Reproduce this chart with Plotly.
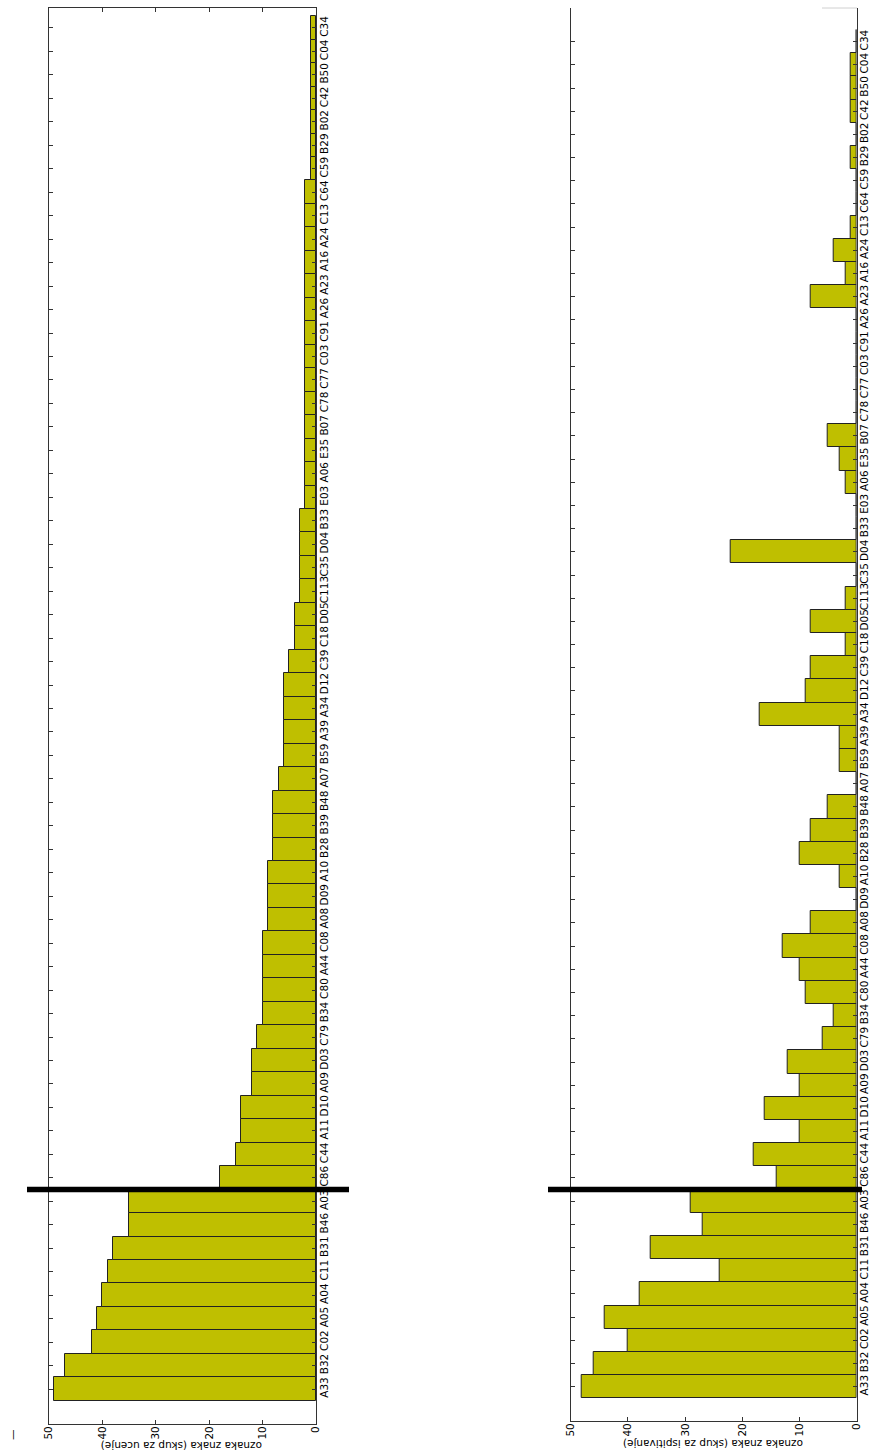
import plotly.graph_objects as go

# Sign labels in display order (bottom to top)
categories = ["A33", "B32", "C02", "A05", "A04", "C11", "B31", "B46", "A03", "C86",
              "C44", "A11", "D10", "A09", "D03", "C79", "B34", "C80", "A44", "C08",
              "A08", "D09", "A10", "B28", "B39", "B48", "A07", "B59", "A39", "A34",
              "D12", "C39", "C18", "D05", "C113", "C35", "D04", "B33", "E03", "A06",
              "E35", "B07", "C78", "C77", "C03", "C91", "A26", "A23", "A16", "A24",
              "C13", "C64", "C59", "B29", "B02", "C42", "B50", "C04", "C34"]

# Counts per sign in the training set
train_counts = [49, 47, 42, 41, 40, 39, 38, 35, 35, 18,
                15, 14, 14, 12, 12, 11, 10, 10, 10, 10,
                9, 9, 9, 8, 8, 8, 7, 6, 6, 6,
                6, 5, 4, 4, 3, 3, 3, 3, 2, 2,
                2, 2, 2, 2, 2, 2, 2, 2, 2, 2,
                2, 2, 1, 1, 1, 1, 1, 1, 1]

# Counts per sign in the test set
test_counts = [48, 46, 40, 44, 38, 24, 36, 27, 29, 14,
               18, 10, 16, 10, 12, 6, 4, 9, 10, 13,
               8, 0, 3, 10, 8, 5, 0, 3, 3, 17,
               9, 8, 2, 8, 2, 0, 22, 0, 0, 2,
               3, 5, 0, 0, 0, 0, 0, 8, 2, 4,
               1, 0, 0, 1, 0, 1, 1, 1, 0]

value_ticks = [0, 10, 20, 30, 40, 50]
split_position = 8.5  # boundary between the first nine signs and the rest

W, H = 872, 1454
FONT = "DejaVu Sans"
BAR_COLOR = "#bfbf00"
LINE_COLOR = "#333333"

idx = list(range(len(categories)))

fig = go.Figure()
fig.add_trace(go.Bar(x=train_counts, y=idx, orientation="h", width=1,
                     marker=dict(color=BAR_COLOR, line=dict(color="#222222", width=1)),
                     xaxis="x", yaxis="y", showlegend=False))
fig.add_trace(go.Bar(x=test_counts, y=idx, orientation="h", width=1,
                     marker=dict(color=BAR_COLOR, line=dict(color="#222222", width=1)),
                     xaxis="x2", yaxis="y2", showlegend=False))


def px_x(p):
    return p / W


def px_y(p):
    return 1 - p / H


value_axis = dict(range=[50, 0], tickvals=value_ticks, ticks="inside", ticklen=4,
                  tickcolor=LINE_COLOR, showline=True, linecolor=LINE_COLOR, linewidth=1,
                  tickangle=-90, tickfont=dict(family=FONT, size=10.5, color="black"),
                  ticklabelstandoff=-3,
                  showgrid=False, zeroline=False, automargin=False)
cat_axis = dict(tickmode="array", tickvals=idx, ticktext=categories, side="right",
                tickangle=-90, ticks="inside", ticklen=4, tickcolor=LINE_COLOR,
                showline=True, linecolor=LINE_COLOR, linewidth=1, mirror="ticks",
                tickfont=dict(family=FONT, size=10.5, color="black"),
                ticklabelstandoff=-2,
                showgrid=False, zeroline=False, automargin=False)

fig.update_layout(
    template="none",
    width=W, height=H, autosize=False,
    margin=dict(l=0, r=0, t=0, b=0, pad=0),
    paper_bgcolor="white", plot_bgcolor="white",
    bargap=0,
    xaxis=dict(value_axis, domain=[px_x(49), px_x(316)], anchor="y", mirror="ticks"),
    yaxis=dict(cat_axis, domain=[px_y(1424), px_y(8)], range=[-1.49, 58.85], anchor="x"),
    xaxis2=dict(value_axis, domain=[px_x(570.7), px_x(856.7)], anchor="y2", mirror=False),
    yaxis2=dict(cat_axis, domain=[px_y(1421), px_y(8)], range=[-1.48, 59.45], anchor="x2"),
)

# Thick separator between the two groups of signs
fig.add_shape(type="line", xref="paper", yref="y", x0=px_x(27), x1=px_x(349),
              y0=split_position, y1=split_position, line=dict(color="black", width=5.5))
fig.add_shape(type="line", xref="paper", yref="y2", x0=px_x(548), x1=px_x(862),
              y0=split_position, y1=split_position, line=dict(color="black", width=5.5))

# Short light frame edge at the top right
fig.add_shape(type="line", xref="paper", yref="paper", x0=px_x(822), x1=px_x(857),
              y0=px_y(8), y1=px_y(8), line=dict(color="#d0d0d0", width=1))

# Axis titles, drawn upside down
fig.add_annotation(text="oznaka znaka (skup za ucenje)", textangle=180,
                   x=px_x(182), y=px_y(1446), xref="paper", yref="paper",
                   xanchor="center", yanchor="middle", showarrow=False,
                   font=dict(family=FONT, size=10.5, color="black"))
fig.add_annotation(text="oznaka znaka (skup za ispitivanje)", textangle=180,
                   x=px_x(713), y=px_y(1444), xref="paper", yref="paper",
                   xanchor="center", yanchor="middle", showarrow=False,
                   font=dict(family=FONT, size=10.5, color="black"))
fig.add_annotation(text="—", textangle=-90,
                   x=px_x(12), y=px_y(1435), xref="paper", yref="paper",
                   xanchor="center", yanchor="middle", showarrow=False,
                   font=dict(family=FONT, size=10.5, color="black"))

fig.write_html("out.html")
